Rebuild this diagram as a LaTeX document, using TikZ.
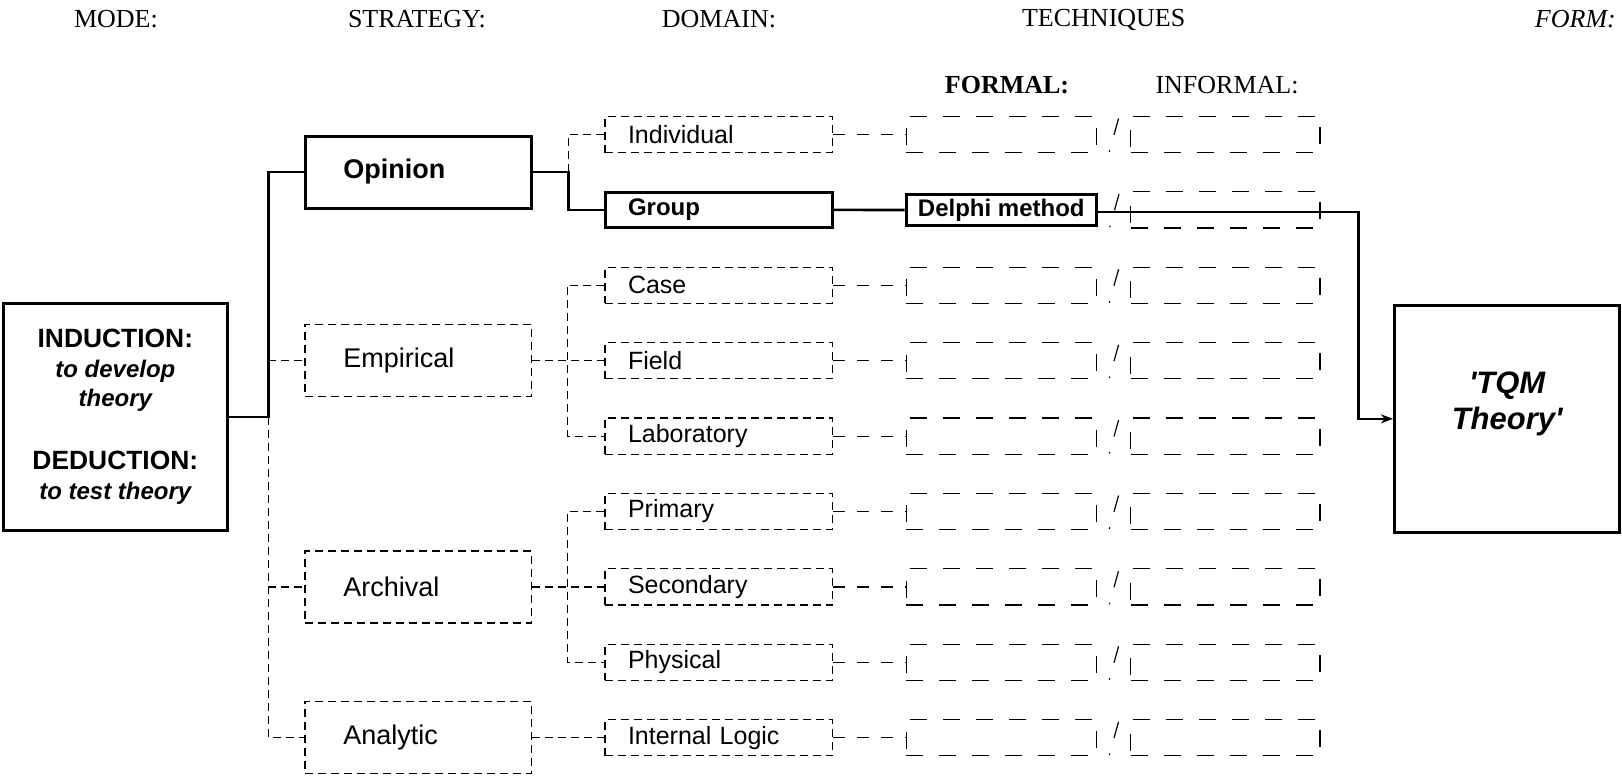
\documentclass[tikz,border=0pt]{standalone}
\usepackage{fontspec}
\setmainfont{Liberation Serif}
\setsansfont{Liberation Sans}
\newfontfamily\plainsans{Liberation Sans}
\usetikzlibrary{arrows.meta,calc}
\begin{document}
\begin{tikzpicture}[x=0.5pt,y=-0.5pt,
  hdr/.style={font=\fontsize{13}{15}\selectfont, inner sep=0pt, anchor=center},
  thinline/.style={line width=0.6pt, dash pattern=on 4pt off 2.5pt},
  solidline/.style={line width=1.3pt},
  linkdash/.style={line width=0.6pt, dash pattern=on 6pt off 6pt},
  slashline/.style={line width=0.6pt, dash pattern=on 8.5pt off 8pt on 0.8pt off 10pt},
  stratbox/.style={minimum height=36pt, text width=74.95pt, inner xsep=19.2pt, inner ysep=0pt,
    align=left, font=\sffamily\fontsize{13.5}{16}\selectfont},
  dombox/.style={minimum height=18.1pt, text width=90.85pt, inner xsep=11.5pt, inner ysep=0pt,
    align=left, font=\sffamily\fontsize{12.5}{15}\selectfont},
  dashframe/.style={draw, line width=0.6pt, dash pattern=on 4pt off 2.5pt},
  boldframe/.style={draw, line width=1.5pt},
  techbox/.style={draw, line width=0.6pt, dash pattern=on 8.5pt off 8pt, minimum width=95.2pt,
    minimum height=18.1pt, inner sep=0pt},
]
\useasboundingbox (0,0) rectangle (1622,778);

% column headings
\node[hdr] (hmode) at (115.9,18.6) {MODE:};
\node[hdr] (hstrat) at (416.9,18.6) {STRATEGY:};
\node[hdr] (hdom) at (719,18.6) {DOMAIN:};
\node[hdr] (htech) at (1103.7,19.5) {TECHNIQUES};
\node[hdr] (hform) at (1575.4,18.6) {\itshape FORM:};
\node[hdr] (hformal) at (1007,84.8) {\bfseries FORMAL:};
\node[hdr] (hinformal) at (1227,84.8) {INFORMAL:};

% mode
\node[boldframe, minimum width=112.25pt, minimum height=113.8pt, inner sep=0pt, align=center,
  font=\sffamily\bfseries\fontsize{13.2}{14.7}\selectfont] (lb) at (115.35,416.8)
  {INDUCTION:\\ {\itshape\fontsize{12}{14.7}\selectfont to develop}\\
   {\itshape\fontsize{12}{14.7}\selectfont theory}\\[17pt]
   DEDUCTION:\\ {\itshape\fontsize{12}{14.7}\selectfont to test theory}};

% strategy
\node[stratbox, boldframe, font=\sffamily\bfseries\fontsize{13.5}{16}\selectfont] (opn) at (418.35,172) {Opinion};
\node[stratbox, dashframe] (emp) at (418.35,360.7) {Empirical};
\node[stratbox, dashframe] (arc) at (418.35,586.9) {Archival};
\node[stratbox, dashframe] (ana) at (418.35,737.7) {Analytic};

% domain
\node[dombox, dashframe] (ind) at (718.85,134.5) {Individual};
\node[dombox, boldframe, minimum height=17.6pt, font=\sffamily\bfseries\fontsize{12}{15}\selectfont] (grp) at (718.85,209.9) {Group};
\node[dombox, dashframe] (cas) at (718.85,285.3) {Case};
\node[dombox, dashframe] (fld) at (718.85,360.7) {Field};
\node[dombox, dashframe] (lab) at (718.85,436.1) {Laboratory};
\node[dombox, dashframe] (pri) at (718.85,511.5) {Primary};
\node[dombox, dashframe] (sec) at (718.85,586.9) {Secondary};
\node[dombox, dashframe] (phy) at (718.85,662.3) {Physical};
\node[dombox, dashframe] (il) at (718.85,737.7) {Internal Logic};

% techniques: formal
\node[boldframe, minimum width=95.2pt, minimum height=15.5pt, inner sep=0pt,
  font=\sffamily\bfseries\fontsize{12}{14}\selectfont] (delphi) at (1001.3,210) {Delphi method};
\foreach \k/\y in {1/134.5,3/285.3,4/360.7,5/436.1,6/511.5,7/586.9,8/662.3,9/737.7}
  \node[techbox] (f\k) at (1001.3,\y) {};
% techniques: informal
\foreach \k/\y in {1/134.5,2/209.9,3/285.3,4/360.7,5/436.1,6/511.5,7/586.9,8/662.3,9/737.7}
  \node[techbox, minimum width=94.7pt] (i\k) at (1225.3,\y) {};

% form
\node[boldframe, minimum width=112.75pt, minimum height=113.85pt, inner sep=0pt] (tqm) at (1507.15,418.85) {};
\node[align=center, inner sep=0pt, font=\plainsans\bfseries\itshape\fontsize{15.5}{18}\selectfont]
  (tqmtext) at (1507.15,404) {'TQM\\Theory'};

% solid path through the tree
\draw[solidline] (lb.east) -- ++(39.3,0) coordinate (trunk) |- (opn.west);
\draw[solidline] (opn.east) -- ++(35.2,0) coordinate (oj) |- (grp.west);
\draw[solidline] (grp.east) -- (delphi.west);
\draw[solidline, -{Stealth[length=6pt,width=4.5pt]}] ([yshift=-1pt]delphi.east) -- ++(260.5,0) |- (tqm.west);

% dashed branches: strategy
\draw[thinline] (trunk) |- (ana.west);
\draw[thinline] (trunk |- emp.west) -- (emp.west);
\draw[thinline] (trunk |- arc.west) -- (arc.west);

% dashed branches: domain
\draw[thinline] (oj) |- (ind.west);
\draw[thinline] (emp.east) -- ++(35.2,0) coordinate (ej) -- (fld.west);
\draw[thinline] (cas.west) -- (ej |- cas.west) -- (ej |- lab.west) -- (lab.west);
\draw[thinline] (arc.east) -- ++(35.2,0) coordinate (aj) -- (sec.west);
\draw[thinline] (pri.west) -- (aj |- pri.west) -- (aj |- phy.west) -- (phy.west);
\draw[thinline] (ana.east) -- (il.west);

% domain to formal technique
\foreach \d/\k in {ind/1,cas/3,fld/4,lab/5,pri/6,sec/7,phy/8,il/9}
  \draw[linkdash] (\d.east) -- (f\k.west);

% formal / informal separators
\foreach \a/\b in {f1/i1,delphi/i2,f3/i3,f4/i4,f5/i5,f6/i6,f7/i7,f8/i8,f9/i9}
  \draw[slashline] ($(\a.east)!0.5!(\b.west)+(5,-16)$) -- ++(-10,36);
\end{tikzpicture}
\end{document}
